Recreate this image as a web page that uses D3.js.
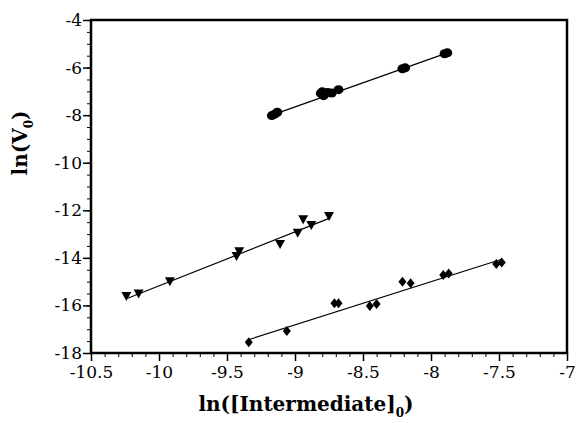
<!DOCTYPE html>
<html>
<head>
<meta charset="utf-8">
<script src="https://cdnjs.cloudflare.com/ajax/libs/d3/7.8.5/d3.min.js"></script>
<style>
body { margin: 0; background: #fff; }
.tick text { font-family: "DejaVu Serif", serif; font-size: 17px; fill: #000; }
.axis path, .axis line { stroke: #000; }
</style>
</head>
<body>
<svg width="580" height="423"></svg>
<script>
// circles series
var circX = [-9.17, -9.15, -9.13, -8.81, -8.80, -8.79, -8.76, -8.73, -8.68, -8.21, -8.19, -7.90, -7.88];
var circY = [-8.02, -7.96, -7.88, -7.08, -7.02, -7.18, -7.05, -7.07, -6.93, -6.05, -6.01, -5.42, -5.38];
// down triangles series
var triX = [-10.24, -10.15, -9.92, -9.43, -9.41, -9.11, -8.98, -8.94, -8.88, -8.75];
var triY = [-15.6, -15.5, -14.98, -13.92, -13.72, -13.42, -12.94, -12.38, -12.62, -12.24];
// diamonds series
var diaX = [-9.34, -9.06, -8.71, -8.68, -8.45, -8.40, -8.21, -8.15, -7.91, -7.87, -7.52, -7.48];
var diaY = [-17.55, -17.08, -15.91, -15.91, -16.02, -15.94, -15.0, -15.07, -14.72, -14.66, -14.26, -14.2];
// fitted line end points
var circLineX = [-9.17, -7.88], circLineY = [-8.0, -5.38];
var triLineX = [-10.23, -8.74], triLineY = [-15.7, -12.32];
var diaLineX = [-9.33, -7.48], diaLineY = [-17.42, -14.06];

var xTicks = [-10.5, -10, -9.5, -9, -8.5, -8, -7.5, -7];
var xTickLabels = ["-10.5", "-10", "-9.5", "-9", "-8.5", "-8", "-7.5", "-7"];
var yTicks = [-4, -6, -8, -10, -12, -14, -16, -18];
var yTickLabels = ["-4", "-6", "-8", "-10", "-12", "-14", "-16", "-18"];

var svg = d3.select("svg");
var mLeft = 91, mRight = 567, mTop = 20, mBottom = 353;

var x = d3.scaleLinear().domain([-10.5, -7]).range([mLeft, mRight]);
var y = d3.scaleLinear().domain([-18, -4]).range([mBottom, mTop]);

// minor ticks
svg.append("g")
    .attr("class", "axis")
    .attr("transform", "translate(0," + mBottom + ")")
    .call(d3.axisBottom(x).tickValues(d3.range(-10.5, -6.99, 0.1)).tickSize(4).tickFormat(""))
    .call(function(g) { g.select(".domain").remove(); });
svg.append("g")
    .attr("class", "axis")
    .attr("transform", "translate(" + mLeft + ",0)")
    .call(d3.axisLeft(y).tickValues(d3.range(-18, -3.99, 0.5)).tickSize(4).tickFormat(""))
    .call(function(g) { g.select(".domain").remove(); });

// major ticks
svg.append("g")
    .attr("class", "axis")
    .attr("transform", "translate(0," + mBottom + ")")
    .call(d3.axisBottom(x).tickValues(xTicks).tickSize(8).tickPadding(5)
        .tickFormat(function(d, i) { return xTickLabels[i]; }))
    .call(function(g) { g.select(".domain").remove(); })
    .selectAll("line").attr("stroke-width", 1.5);
svg.append("g")
    .attr("class", "axis")
    .attr("transform", "translate(" + mLeft + ",0)")
    .call(d3.axisLeft(y).tickValues(yTicks).tickSize(8).tickPadding(1)
        .tickFormat(function(d, i) { return yTickLabels[i]; }))
    .call(function(g) { g.select(".domain").remove(); })
    .selectAll("line").attr("stroke-width", 1.5);

// frame
svg.append("rect")
    .attr("x", mLeft).attr("y", mTop)
    .attr("width", mRight - mLeft).attr("height", mBottom - mTop)
    .attr("fill", "none").attr("stroke", "#000").attr("stroke-width", 2.5);

// fit lines
function fitLine(xs, ys) {
  svg.append("line")
    .attr("x1", x(xs[0])).attr("y1", y(ys[0]))
    .attr("x2", x(xs[1])).attr("y2", y(ys[1]))
    .attr("stroke", "#000").attr("stroke-width", 1.2);
}
fitLine(circLineX, circLineY);
fitLine(triLineX, triLineY);
fitLine(diaLineX, diaLineY);

// markers
svg.append("g").selectAll("ellipse")
  .data(d3.zip(circX, circY))
  .enter().append("ellipse")
    .attr("cx", function(d) { return x(d[0]); })
    .attr("cy", function(d) { return y(d[1]); })
    .attr("rx", 5).attr("ry", 4.5)
    .attr("fill", "#000");

svg.append("g").selectAll("path")
  .data(d3.zip(triX, triY))
  .enter().append("path")
    .attr("d", "M-5,-4L5,-4L0,5Z")
    .attr("transform", function(d) { return "translate(" + x(d[0]) + "," + y(d[1]) + ")"; })
    .attr("fill", "#000");

svg.append("g").selectAll("path")
  .data(d3.zip(diaX, diaY))
  .enter().append("path")
    .attr("d", "M0,-5L4,0L0,5L-4,0Z")
    .attr("transform", function(d) { return "translate(" + x(d[0]) + "," + y(d[1]) + ")"; })
    .attr("fill", "#000");

// axis titles
var xt = svg.append("text")
    .attr("x", 306).attr("y", 411)
    .attr("text-anchor", "middle")
    .style("font-family", "DejaVu Serif, serif")
    .style("font-weight", "bold")
    .style("font-size", "20px");
xt.append("tspan").text("ln([Intermediate]");
xt.append("tspan").attr("dy", 6).style("font-size", "12px").text("0");
xt.append("tspan").attr("dy", -6).text(")");

var yt = svg.append("text")
    .attr("transform", "translate(27,143) rotate(-90)")
    .attr("text-anchor", "middle")
    .style("font-family", "DejaVu Serif, serif")
    .style("font-weight", "bold")
    .style("font-size", "20px");
yt.append("tspan").text("ln(V");
yt.append("tspan").attr("dy", 6).style("font-size", "12px").text("0");
yt.append("tspan").attr("dy", -6).text(")");
</script>
</body>
</html>
